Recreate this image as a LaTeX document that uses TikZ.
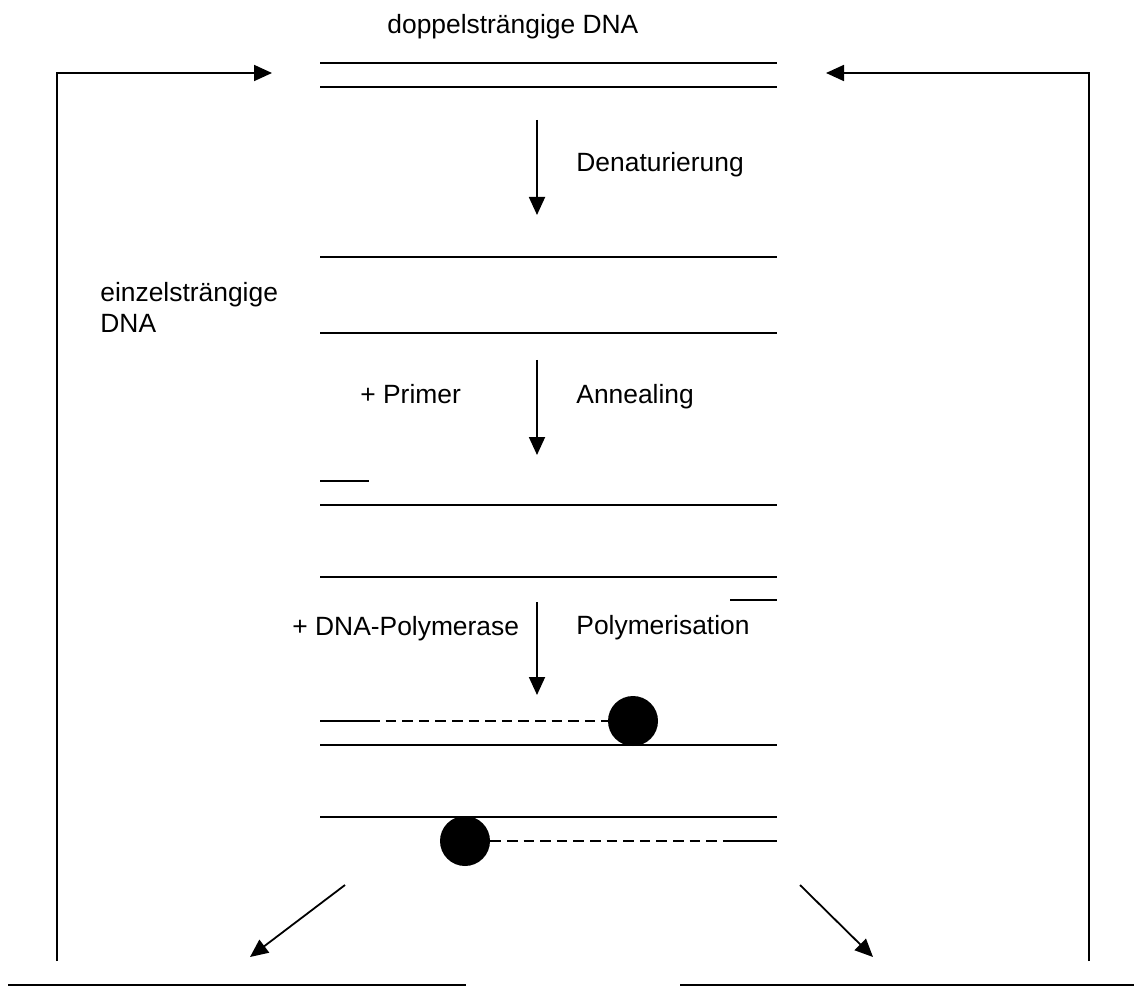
\documentclass[tikz,border=0pt]{standalone}
\usepackage{fontspec}
\setmainfont{Liberation Sans}
\usetikzlibrary{arrows.meta}
\begin{document}
\begin{tikzpicture}[x=0.5pt,y=-0.5pt,
  every node/.style={font=\fontsize{13.2}{15.5}\selectfont,inner sep=0pt},
  strand/.style={line width=1pt},
  neu/.style={line width=1.1pt,dash pattern=on 5.3pt off 3pt},
  pfeil/.style={line width=0.9pt,-{Triangle[length=9pt,width=8pt]}},
  polymerase/.style={circle,fill=black,minimum size=25pt}]
\useasboundingbox (0,0) rectangle (1134,1005);
% labels
\node[anchor=base west] (titel) at (387,34) {doppelsträngige DNA};
\node[anchor=base west] (denat) at (576,172) {Denaturierung};
\node[anchor=west,align=left] (einzel) at (100,307) {einzelsträngige\\DNA};
\node[anchor=base west] (primer) at (360,403) {+ Primer};
\node[anchor=base west] (anneal) at (576,403) {Annealing};
\node[anchor=base west] (dnapol) at (292,635) {+ DNA-Polymerase};
\node[anchor=base west] (polym) at (576,634) {Polymerisation};
% double strand
\draw[strand] (320,63) -- (777,63);
\draw[strand] (320,87) -- (777,87);
% single strands
\draw[strand] (320,257) -- (777,257);
\draw[strand] (320,333) -- (777,333);
% primers bound
\draw[strand] (320,481) -- (369,481);
\draw[strand] (320,505) -- (777,505);
\draw[strand] (320,577) -- (777,577);
\draw[strand] (730,600) -- (777,600);
% polymerisation
\node[polymerase] (polA) at (633,721) {};
\node[polymerase] (polB) at (465,841) {};
\draw[strand] (320,721) -- (369,721);
\draw[neu] (369,721) -- (polA.west);
\draw[strand] (320,745) -- (777,745);
\draw[strand] (320,817) -- (777,817);
\draw[neu] (polB.east) -- (728,841);
\draw[strand] (728,841) -- (777,841);
% products
\draw[strand] (8,985) -- (466,985);
\draw[strand] (680,985) -- (1134,985);
% step arrows
\coordinate (d1) at (537,120); \coordinate (d2) at (537,215);
\coordinate (a1) at (537,360); \coordinate (a2) at (537,455);
\coordinate (p1) at (537,602); \coordinate (p2) at (537,695);
\draw[pfeil] (d1) -- (d2);
\draw[pfeil] (a1) -- (a2);
\draw[pfeil] (p1) -- (p2);
\coordinate (sl1) at (345,885); \coordinate (sl2) at (250,957);
\coordinate (sr1) at (800,885); \coordinate (sr2) at (873,957);
\draw[pfeil] (sl1) -- (sl2);
\draw[pfeil] (sr1) -- (sr2);
% cycle back
\coordinate (rl) at (57,961); \coordinate (il) at (272,73);
\coordinate (rr) at (1089,961); \coordinate (ir) at (826,73);
\draw[pfeil] (rl) |- (il);
\draw[pfeil] (rr) |- (ir);
\end{tikzpicture}
\end{document}
